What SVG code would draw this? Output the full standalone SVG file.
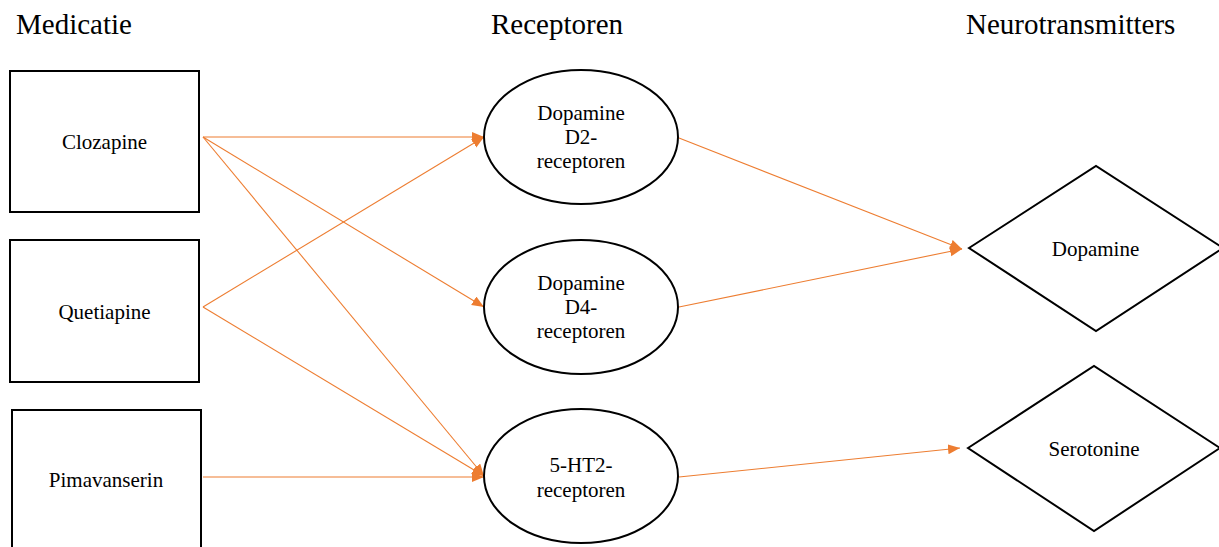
<svg xmlns="http://www.w3.org/2000/svg" width="1219" height="547" viewBox="0 0 1219 547">
<style>
  .shape { fill: #ffffff; stroke: #000000; stroke-width: 2; }
  .title { font-family: "Liberation Serif", "Times New Roman", serif; font-size: 29px; fill: #000000; }
  .lbl { font-family: "Liberation Serif", "Times New Roman", serif; font-size: 21px; fill: #000000; text-anchor: middle; }
  .conn { stroke: #ED7D31; stroke-width: 1.1; fill: none; marker-end: url(#arrow); }
</style>
<defs>
  <marker id="arrow" markerUnits="userSpaceOnUse" markerWidth="13" markerHeight="11" refX="12" refY="5" orient="auto">
    <path d="M0,0 L12,5 L0,10 z" fill="#ED7D31"/>
  </marker>
</defs>
<rect width="1219" height="547" fill="#ffffff"/>
<g id="titles">
  <text class="title" x="16" y="34">Medicatie</text>
  <text class="title" x="491" y="34">Receptoren</text>
  <text class="title" x="966" y="34">Neurotransmitters</text>
</g>
<g id="connectors">
  <line class="conn" x1="203" y1="137" x2="484" y2="137"/>
  <line class="conn" x1="203" y1="137" x2="484" y2="307"/>
  <line class="conn" x1="203" y1="137" x2="484" y2="476"/>
  <line class="conn" x1="203" y1="307" x2="484" y2="137"/>
  <line class="conn" x1="203" y1="307" x2="484" y2="476"/>
  <line class="conn" x1="203" y1="477" x2="484" y2="477"/>
  <line class="conn" x1="679" y1="138" x2="962" y2="249"/>
  <line class="conn" x1="679" y1="307" x2="962" y2="249"/>
  <line class="conn" x1="679" y1="477" x2="960" y2="448"/>
</g>
<g id="clozapine">
  <rect class="shape" x="10" y="71" width="189" height="141"/>
  <text class="lbl" x="104.5" y="149">Clozapine</text>
</g>
<g id="quetiapine">
  <rect class="shape" x="10" y="240" width="189" height="142"/>
  <text class="lbl" x="104.5" y="319">Quetiapine</text>
</g>
<g id="pimavanserin">
  <rect class="shape" x="12" y="410" width="189" height="160"/>
  <text class="lbl" x="106" y="487">Pimavanserin</text>
</g>
<g id="d2">
  <ellipse class="shape" cx="581" cy="137" rx="97" ry="67"/>
  <text class="lbl" x="581" y="120">Dopamine</text>
  <text class="lbl" x="581" y="144">D2-</text>
  <text class="lbl" x="581" y="168">receptoren</text>
</g>
<g id="d4">
  <ellipse class="shape" cx="581" cy="307" rx="97" ry="67"/>
  <text class="lbl" x="581" y="290">Dopamine</text>
  <text class="lbl" x="581" y="314">D4-</text>
  <text class="lbl" x="581" y="338">receptoren</text>
</g>
<g id="ht2">
  <ellipse class="shape" cx="581" cy="476" rx="97" ry="67"/>
  <text class="lbl" x="581" y="472">5-HT2-</text>
  <text class="lbl" x="581" y="497">receptoren</text>
</g>
<g id="dopamine">
  <polygon class="shape" points="969,248 1096,166 1223,248 1096,331"/>
  <text class="lbl" x="1095.5" y="256">Dopamine</text>
</g>
<g id="serotonine">
  <polygon class="shape" points="968,448 1094,366 1220,448 1094,531"/>
  <text class="lbl" x="1094" y="456">Serotonine</text>
</g>
</svg>
